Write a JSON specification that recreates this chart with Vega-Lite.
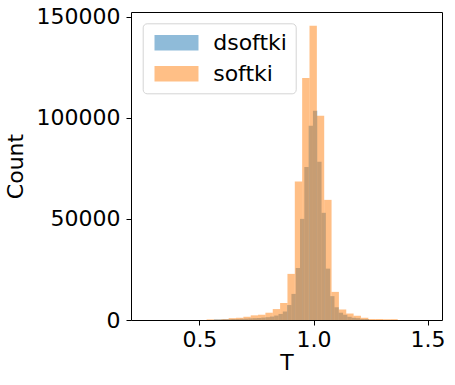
{
  "$schema": "https://vega.github.io/schema/vega-lite/v6.json",
  "width": 311,
  "height": 308,
  "autosize": {"type": "none"},
  "padding": {"left": 131, "top": 12, "right": 13, "bottom": 65},
  "config": {
    "font": "DejaVu Sans",
    "view": {"stroke": "black", "strokeWidth": 1},
    "axis": {"grid": false, "domain": false, "tickColor": "black", "tickSize": 5, "tickWidth": 1, "labelFontSize": 22, "labelColor": "black", "titleFontSize": 22, "titleFontWeight": "normal", "titleColor": "black"}
  },
  "data": {"values": [
    {"s": "dsoftki", "x0": 0.56376, "x1": 0.58262, "n": 300},
    {"s": "dsoftki", "x0": 0.58262, "x1": 0.60148, "n": 300},
    {"s": "dsoftki", "x0": 0.60148, "x1": 0.62034, "n": 400},
    {"s": "dsoftki", "x0": 0.62034, "x1": 0.6392, "n": 400},
    {"s": "dsoftki", "x0": 0.6392, "x1": 0.65806, "n": 500},
    {"s": "dsoftki", "x0": 0.65806, "x1": 0.67692, "n": 500},
    {"s": "dsoftki", "x0": 0.67692, "x1": 0.69578, "n": 600},
    {"s": "dsoftki", "x0": 0.69578, "x1": 0.71464, "n": 700},
    {"s": "dsoftki", "x0": 0.71464, "x1": 0.7335, "n": 800},
    {"s": "dsoftki", "x0": 0.7335, "x1": 0.75236, "n": 900},
    {"s": "dsoftki", "x0": 0.75236, "x1": 0.77122, "n": 1000},
    {"s": "dsoftki", "x0": 0.77122, "x1": 0.79008, "n": 1200},
    {"s": "dsoftki", "x0": 0.79008, "x1": 0.80894, "n": 1400},
    {"s": "dsoftki", "x0": 0.80894, "x1": 0.8278, "n": 1700},
    {"s": "dsoftki", "x0": 0.8278, "x1": 0.84666, "n": 2200},
    {"s": "dsoftki", "x0": 0.84666, "x1": 0.86552, "n": 3000},
    {"s": "dsoftki", "x0": 0.86552, "x1": 0.88438, "n": 4200},
    {"s": "dsoftki", "x0": 0.88438, "x1": 0.90324, "n": 7400},
    {"s": "dsoftki", "x0": 0.90324, "x1": 0.9221, "n": 12900},
    {"s": "dsoftki", "x0": 0.9221, "x1": 0.94096, "n": 25700},
    {"s": "dsoftki", "x0": 0.94096, "x1": 0.95982, "n": 50000},
    {"s": "dsoftki", "x0": 0.95982, "x1": 0.97868, "n": 75600},
    {"s": "dsoftki", "x0": 0.97868, "x1": 0.99754, "n": 96000},
    {"s": "dsoftki", "x0": 0.99754, "x1": 1.0164, "n": 103500},
    {"s": "dsoftki", "x0": 1.0164, "x1": 1.03526, "n": 78200},
    {"s": "dsoftki", "x0": 1.03526, "x1": 1.05412, "n": 53000},
    {"s": "dsoftki", "x0": 1.05412, "x1": 1.07298, "n": 25400},
    {"s": "dsoftki", "x0": 1.07298, "x1": 1.09184, "n": 11800},
    {"s": "dsoftki", "x0": 1.09184, "x1": 1.1107, "n": 6300},
    {"s": "dsoftki", "x0": 1.1107, "x1": 1.12956, "n": 3600},
    {"s": "dsoftki", "x0": 1.12956, "x1": 1.14842, "n": 2600},
    {"s": "dsoftki", "x0": 1.14842, "x1": 1.16728, "n": 1600},
    {"s": "dsoftki", "x0": 1.16728, "x1": 1.18614, "n": 1100},
    {"s": "dsoftki", "x0": 1.18614, "x1": 1.205, "n": 900},
    {"s": "dsoftki", "x0": 1.205, "x1": 1.22386, "n": 500},
    {"s": "dsoftki", "x0": 1.22386, "x1": 1.24272, "n": 500},
    {"s": "softki", "x0": 0.5317, "x1": 0.5639, "n": 300},
    {"s": "softki", "x0": 0.5639, "x1": 0.5961, "n": 200},
    {"s": "softki", "x0": 0.5961, "x1": 0.6283, "n": 400},
    {"s": "softki", "x0": 0.6283, "x1": 0.6605, "n": 900},
    {"s": "softki", "x0": 0.6605, "x1": 0.6927, "n": 1100},
    {"s": "softki", "x0": 0.6927, "x1": 0.7249, "n": 1600},
    {"s": "softki", "x0": 0.7249, "x1": 0.7571, "n": 2300},
    {"s": "softki", "x0": 0.7571, "x1": 0.7893, "n": 2600},
    {"s": "softki", "x0": 0.7893, "x1": 0.8215, "n": 3600},
    {"s": "softki", "x0": 0.8215, "x1": 0.8537, "n": 5400},
    {"s": "softki", "x0": 0.8537, "x1": 0.8859, "n": 8400},
    {"s": "softki", "x0": 0.8859, "x1": 0.9181, "n": 22800},
    {"s": "softki", "x0": 0.9181, "x1": 0.9503, "n": 68500},
    {"s": "softki", "x0": 0.9503, "x1": 0.9825, "n": 119700},
    {"s": "softki", "x0": 0.9825, "x1": 1.0147, "n": 145500},
    {"s": "softki", "x0": 1.0147, "x1": 1.0469, "n": 101000},
    {"s": "softki", "x0": 1.0469, "x1": 1.0791, "n": 59400},
    {"s": "softki", "x0": 1.0791, "x1": 1.1113, "n": 13900},
    {"s": "softki", "x0": 1.1113, "x1": 1.1435, "n": 5200},
    {"s": "softki", "x0": 1.1435, "x1": 1.1757, "n": 3200},
    {"s": "softki", "x0": 1.1757, "x1": 1.2079, "n": 2100},
    {"s": "softki", "x0": 1.2079, "x1": 1.2401, "n": 1100},
    {"s": "softki", "x0": 1.2401, "x1": 1.2723, "n": 500},
    {"s": "softki", "x0": 1.2723, "x1": 1.3045, "n": 500},
    {"s": "softki", "x0": 1.3045, "x1": 1.3367, "n": 400},
    {"s": "softki", "x0": 1.3367, "x1": 1.3689, "n": 400}
  ]},
  "mark": {"type": "bar", "opacity": 0.5, "strokeWidth": 0},
  "encoding": {
    "x": {"field": "x0", "type": "quantitative", "title": "T",
      "scale": {"domain": [0.2004, 1.563], "nice": false, "zero": false},
      "axis": {"values": [0.5, 1.0, 1.5], "format": ".1f", "labelPadding": 4, "titlePadding": 2}},
    "x2": {"field": "x1"},
    "y": {"field": "n", "type": "quantitative", "title": "Count",
      "scale": {"domain": [0, 152300], "nice": false},
      "axis": {"values": [0, 50000, 100000, 150000], "format": "d", "labelPadding": 6, "titlePadding": 9}},
    "y2": {"datum": 0},
    "color": {"field": "s", "type": "nominal",
      "scale": {"domain": ["dsoftki", "softki"], "range": ["#1f77b4", "#ff7f0e"]},
      "legend": {"title": null, "orient": "none", "legendX": 11.7, "legendY": 11.3,
        "padding": 8.5, "cornerRadius": 4, "strokeColor": "#d4d4d4", "fillColor": "rgba(255,255,255,0.8)",
        "symbolType": "M-1,-1H4.714V1H-1Z", "symbolSize": 237, "symbolStrokeWidth": 0, "symbolOpacity": 0.5,
        "labelFontSize": 22, "labelColor": "black", "labelOffset": 40, "rowPadding": 9}}
  }
}
